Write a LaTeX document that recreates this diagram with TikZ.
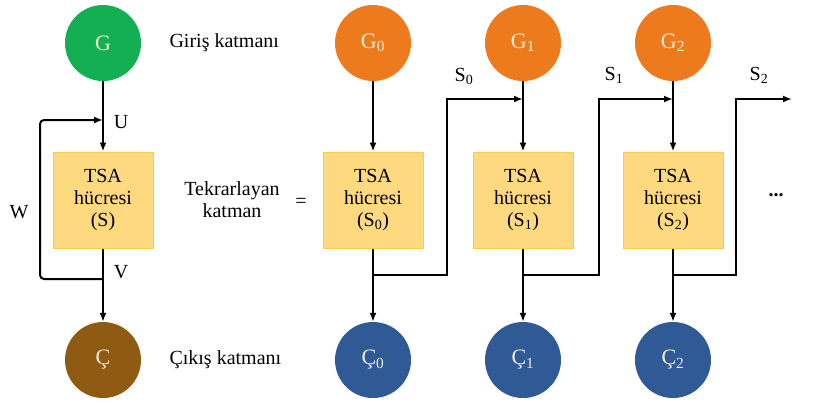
\documentclass[tikz,border=0pt]{standalone}
\usepackage{fontspec}
\setmainfont{Liberation Serif}
\usetikzlibrary{arrows.meta}

\definecolor{girisyesil}{HTML}{14AF52}
\definecolor{cikiskahve}{HTML}{8F5A12}
\definecolor{giristuruncu}{HTML}{EE7A1E}
\definecolor{cikismavi}{HTML}{2F5A96}
\definecolor{hucredolgu}{HTML}{FFD97F}
\definecolor{hucrekenar}{HTML}{FFC94A}
\definecolor{krem}{HTML}{F5EDD5}

\begin{document}
\begin{tikzpicture}[x=1pt,y=-1pt,
  katman/.style={circle,minimum size=76pt,inner sep=0pt,text=krem,font=\fontsize{22}{24}\selectfont},
  hucre/.style={draw=hucrekenar,fill=hucredolgu,line width=1pt,minimum width=100pt,minimum height=96pt,align=center,font=\fontsize{20}{22}\selectfont},
  ok/.style={line width=2pt,-{Latex[length=9pt,width=7pt]}},
  etiket/.style={font=\fontsize{20}{22}\selectfont}]
\useasboundingbox (0,0) rectangle (822,405);

% katlanmis ag
\node [katman, fill=girisyesil] (g) at (103,43) {G};
\node [hucre] (s) at (103,200) {TSA\\hücresi\\(S)};
\node [katman, fill=cikiskahve] (c) at (103,360) {Ç};
\coordinate (u) at (103,120);
\coordinate (v) at (103,279);
\draw [ok] (g) -- (s);
\draw [ok] (s) -- (c);
\draw [ok, rounded corners=4pt] (v) -- (40,279) -- (40,120) -- (u);
\node [etiket] (ulabel) at (121,122) {U};
\node [etiket] (vlabel) at (121,272) {V};
\node [etiket] (wlabel) at (19,212) {W};

\node [etiket, anchor=west] (giris) at (166,43) {Giriş katmanı};
\node [etiket, align=center] (tekrar) at (232,200) {Tekrarlayan\\katman};
\node [etiket, anchor=west] (cikis) at (166,360) {Çıkış katmanı};
\node [etiket] (esit) at (301,203) {=};

% acilmis ag
\foreach \i/\x in {0/373,1/523,2/673} {
  \node [katman, fill=giristuruncu] (g\i) at (\x,43) {G\textsubscript{\i}};
  \node [hucre] (s\i) at (\x,200) {TSA\\hücresi\\(S\textsubscript{\i})};
  \node [katman, fill=cikismavi] (c\i) at (\x,360) {Ç\textsubscript{\i}};
  \coordinate (j\i) at (\x,275);
  \coordinate (a\i) at (\x,99);
  \draw [ok] (g\i) -- (s\i);
  \draw [ok] (s\i) -- (c\i);
}
\coordinate (son) at (792,99);
\draw [ok] (j0) -- (447,275) -- (447,99) -- (a1);
\draw [ok] (j1) -- (599,275) -- (599,99) -- (a2);
\draw [ok] (j2) -- (736,275) -- (736,99) -- (son);
\node [etiket] (s0label) at (464,76) {S\textsubscript{0}};
\node [etiket] (s1label) at (614,75) {S\textsubscript{1}};
\node [etiket] (s2label) at (759,75) {S\textsubscript{2}};
\node [etiket] (devam) at (776,195) {\textbf{...}};
\end{tikzpicture}
\end{document}
